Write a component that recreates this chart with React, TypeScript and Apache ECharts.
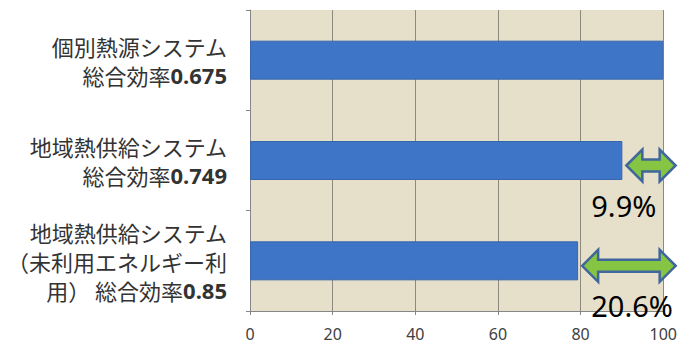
import React, { useEffect, useRef } from "react";
import * as echarts from "echarts";

// System names (one entry per line of the axis label) and their overall efficiency
const categoryLines: string[][] = [
  ["個別熱源システム", "総合効率"],
  ["地域熱供給システム", "総合効率"],
  ["地域熱供給システム", "（未利用エネルギー利", "用） 総合効率"],
];
const efficiencyText: string[] = ["0.675", "0.749", "0.85"];

// Primary energy relative to the individual system (%)
const values: number[] = [100, 90.1, 79.4];

const xTicks = { min: 0, max: 100, interval: 20 };
const arrowEnd = 103;

export default function App() {
  const ref = useRef<HTMLDivElement>(null);

  useEffect(() => {
    if (!ref.current) return;
    const chart = echarts.init(ref.current, undefined, { renderer: "svg" });

    const categories = categoryLines.map((_, i) => String(i));
    const labelFor = (i: number) => {
      const lines = categoryLines[i];
      const head = lines.slice(0, -1).map((l) => `{j|${l}}`);
      return [...head, `{j|${lines[lines.length - 1]}}{n|${efficiencyText[i]}}`].join("\n");
    };

    // Reduction arrows run from each shorter bar's end out past 100
    const arrowData = values
      .map((v, i) => [v, arrowEnd, i, `${(100 - v).toFixed(1)}%`])
      .filter((d) => (d[0] as number) < 100);

    chart.setOption({
      animation: false,
      grid: {
        left: 250,
        right: 13,
        top: 10,
        bottom: 38,
        show: true,
        backgroundColor: "#E6DFCA",
        borderWidth: 0,
      },
      xAxis: {
        type: "value",
        min: xTicks.min,
        max: xTicks.max,
        interval: xTicks.interval,
        axisLine: { show: true, lineStyle: { color: "#868686", width: 1 } },
        axisTick: { show: true, length: 4, lineStyle: { color: "#868686" } },
        splitLine: { show: true, lineStyle: { color: "#8C897E", width: 1 } },
        axisLabel: {
          margin: 15,
          color: "#404040",
          fontSize: 16,
          fontFamily: "Noto Sans",
        },
      },
      yAxis: {
        type: "category",
        inverse: true,
        data: categories,
        axisLine: { show: true, lineStyle: { color: "#868686", width: 1 } },
        axisTick: { show: true, length: 4, lineStyle: { color: "#868686" } },
        splitLine: { show: false },
        axisLabel: {
          margin: 23,
          align: "right",
          formatter: (_v: string, i: number) => labelFor(i),
          rich: {
            j: {
              fontFamily: "Noto Sans CJK JP",
              fontSize: 22,
              color: "#333333",
              lineHeight: 29,
            },
            n: {
              fontFamily: "Noto Sans",
              fontWeight: "bold",
              fontSize: 22,
              color: "#333333",
              lineHeight: 29,
            },
          },
        },
      },
      series: [
        {
          type: "bar",
          data: values,
          barWidth: 39,
          itemStyle: { color: "#3F75C6", borderColor: "#3766AC", borderWidth: 1 },
        },
        {
          type: "custom",
          clip: false,
          data: arrowData,
          encode: { x: [0, 1], y: 2 },
          renderItem: (_params: any, api: any) => {
            const start = api.value(0);
            const end = api.value(1);
            const idx = api.value(2);
            const p0 = api.coord([start, idx]);
            const p1 = api.coord([end, idx]);
            const p100 = api.coord([100, idx]);
            const x0 = p0[0] + 4;
            const x1 = p1[0];
            const yc = p0[1] + 5;
            const H = 16;
            const s = 6;
            const hl = 16;
            const points = [
              [x0, yc],
              [x0 + hl, yc - H],
              [x0 + hl, yc - s],
              [x1 - hl, yc - s],
              [x1 - hl, yc - H],
              [x1, yc],
              [x1 - hl, yc + H],
              [x1 - hl, yc + s],
              [x0 + hl, yc + s],
              [x0 + hl, yc + H],
            ];
            return {
              type: "group",
              children: [
                {
                  type: "polygon",
                  shape: { points },
                  style: { fill: "#86C443", stroke: "#3F679B", lineWidth: 2.5 },
                },
                {
                  type: "text",
                  style: {
                    text: api.value(3),
                    x: p100[0] - 72,
                    y: p0[1] + 45,
                    fill: "#000000",
                    font: "29px 'Noto Sans'",
                    align: "left",
                    verticalAlign: "middle",
                  },
                },
              ],
            };
          },
        },
      ],
    });

    return () => chart.dispose();
  }, []);

  return (
    <div
      ref={ref}
      style={{ position: "fixed", left: 0, top: 0, width: 680, height: 349, background: "#ffffff" }}
    />
  );
}
